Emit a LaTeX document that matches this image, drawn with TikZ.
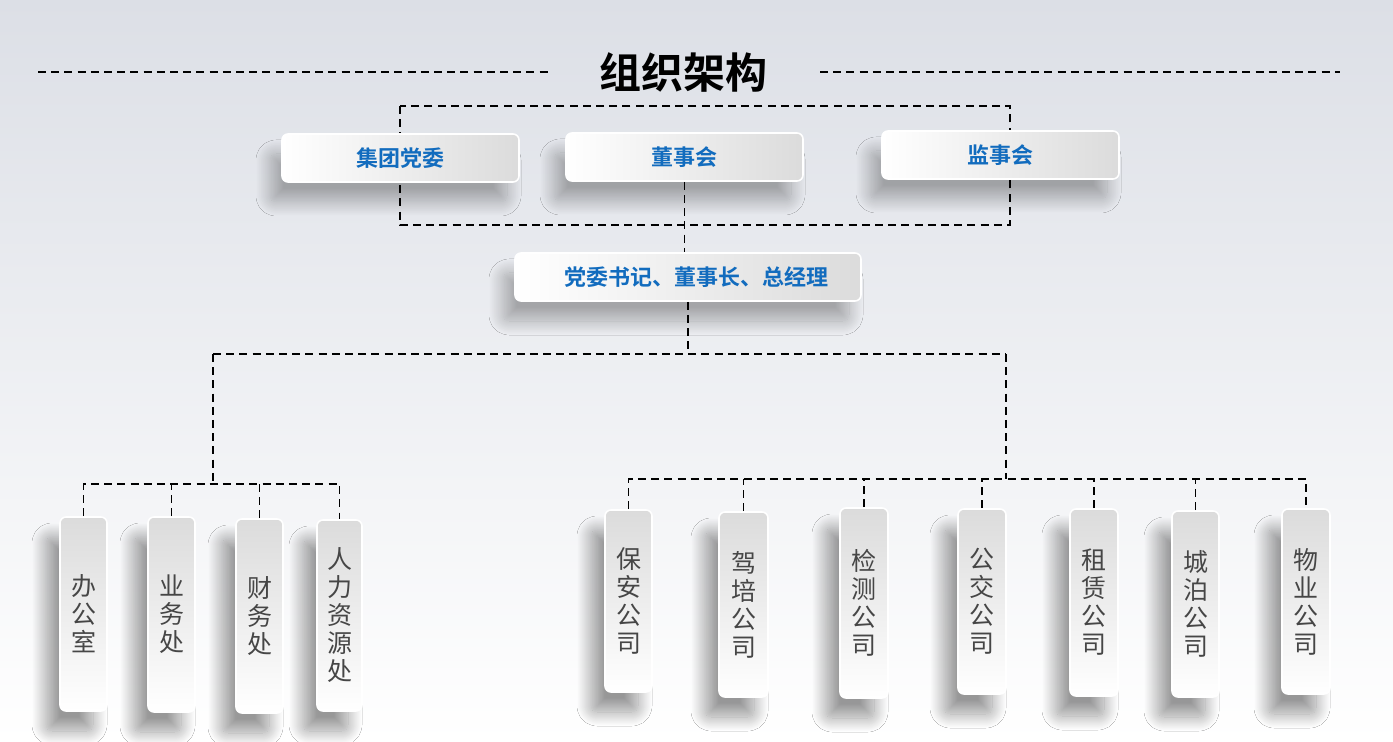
\documentclass[tikz,border=0pt]{standalone}
\usepackage{fontspec}
\setmainfont{Noto Sans CJK SC}[BoldFont={Noto Sans CJK SC Bold}]
\usetikzlibrary{shadows.blur}
\definecolor{titleblue}{RGB}{18,108,190}
\definecolor{unitgray}{RGB}{70,70,70}
\definecolor{bgtop}{RGB}{220,223,230}
\tikzset{
  link/.style={line width=0.9pt,dash pattern=on 4pt off 2.6pt},
  headbox/.style={rounded corners=3pt,draw=white,line width=0.8pt,
    left color=white,right color=black!14,
    blur shadow={shadow xshift=-6pt,shadow yshift=-10pt,shadow blur radius=7pt,
      shadow blur steps=25,shadow opacity=30},
    font=\bfseries\fontsize{11}{13}\selectfont,text=titleblue,inner sep=0pt},
  unitbox/.style={rounded corners=3pt,draw=white,line width=0.8pt,
    top color=black!14,bottom color=white,
    blur shadow={shadow xshift=-7pt,shadow yshift=-10pt,shadow blur radius=7pt,
      shadow blur steps=25,shadow opacity=40},
    font=\fontsize{12.5}{14}\selectfont,text=unitgray,align=center,
    minimum width=23.5pt,inner sep=0pt}
}
\begin{document}
\begin{tikzpicture}[x=0.5pt,y=-0.5pt]
\useasboundingbox (0,0) rectangle (1393,742);
\shade[top color=bgtop,bottom color=white] (0,0) rectangle (1393,742);
% title
\node[font=\bfseries\fontsize{21}{24}\selectfont] (title) at (683,72) {组织架构};
\coordinate (tl1) at (38,72);
\coordinate (tl2) at (548,72);
\coordinate (tr1) at (820,72);
\coordinate (tr2) at (1340,72);
\draw[link,line width=0.7pt] (tl1) -- (tl2);
\draw[link,line width=0.7pt] (tr1) -- (tr2);
% frame round the three boards
\coordinate (fa) at (400,106);
\coordinate (fb) at (1010,225);
\draw[link] (fa) rectangle (fb);
% boards
\node[headbox,minimum width=118.5pt,minimum height=24pt] (party) at (400.5,158) {集团党委};
\node[headbox,minimum width=118.5pt,minimum height=24pt] (board) at (684.5,157) {董事会};
\node[headbox,minimum width=118.5pt,minimum height=24pt] (super) at (1000.5,155) {监事会};
\node[headbox,minimum width=173pt,minimum height=24pt] (chief) at (688,277) {\hspace*{8pt}党委书记、董事长、总经理};
% departments
\node[unitbox,minimum height=97pt] (d1) at (83.5,614) {办\\公\\室};
\node[unitbox,minimum height=97.5pt] (d2) at (171.5,614.5) {业\\务\\处};
\node[unitbox,minimum height=97pt] (d3) at (259.5,616) {财\\务\\处};
\node[unitbox,minimum width=22.5pt,minimum height=95.5pt] (d4) at (339.5,615.5) {人\\力\\资\\源\\处};
% companies
\node[unitbox,minimum height=91pt] (c1) at (628.5,601) {保\\安\\公\\司};
\node[unitbox,minimum width=24.5pt,minimum height=92.5pt] (c2) at (743.5,604.5) {驾\\培\\公\\司};
\node[unitbox,minimum width=24pt,minimum height=95pt] (c3) at (864,603) {检\\测\\公\\司};
\node[unitbox,minimum width=24pt,minimum height=92.5pt] (c4) at (982,601.5) {公\\交\\公\\司};
\node[unitbox,minimum width=24pt,minimum height=93.5pt] (c5) at (1094,602.5) {租\\赁\\公\\司};
\node[unitbox,minimum height=93pt] (c6) at (1195.5,604) {城\\泊\\公\\司};
\node[unitbox,minimum width=24pt,minimum height=92.5pt] (c7) at (1306,601.5) {物\\业\\公\\司};
% connectors
\coordinate (hl) at (213,354);
\coordinate (hr) at (1006,354);
\coordinate (lbus) at (213,484);
\coordinate (rbus) at (1006,479);
\draw[link] (board.south) -- (board.south |- chief.north);
\draw[link] (chief.south) -- (chief.south |- hl);
\draw[link] (hl) -- (hr);
\draw[link] (hl) -- (lbus);
\draw[link] (hr) -- (rbus);
\draw[link] (d1.north) |- (lbus) -| (d4.north);
\draw[link] (d2.north) -- (d2.north |- lbus);
\draw[link] (d3.north) -- (d3.north |- lbus);
\draw[link] (c1.north) |- (rbus) -| (c7.north);
\draw[link] (c2.north) -- (c2.north |- rbus);
\draw[link] (c3.north) -- (c3.north |- rbus);
\draw[link] (c4.north) -- (c4.north |- rbus);
\draw[link] (c5.north) -- (c5.north |- rbus);
\draw[link] (c6.north) -- (c6.north |- rbus);
\end{tikzpicture}
\end{document}
